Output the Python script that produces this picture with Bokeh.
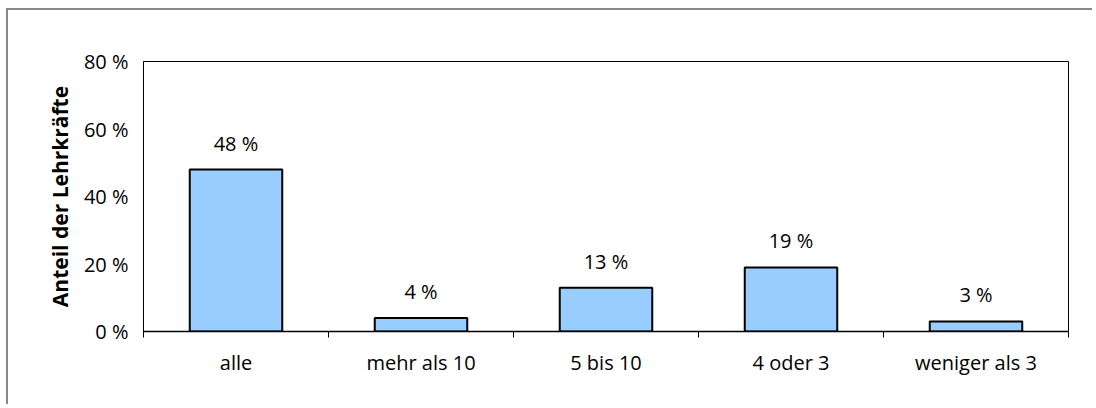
from bokeh.plotting import figure
from bokeh.models import ColumnDataSource, FixedTicker, Range1d, LabelSet
from bokeh.embed import file_html
from bokeh.resources import INLINE
from bokeh.core.properties import value

categories = ["alle", "mehr als 10", "5 bis 10", "4 oder 3", "weniger als 3"]
shares = [48, 4, 13, 19, 3]
y_ticks = [0, 20, 40, 60, 80]
y_tick_labels = ["0 %", "20 %", "40 %", "60 %", "80 %"]
y_title = "Anteil der Lehrkräfte"

FONT = "Open Sans"
x_centers = [i + 0.5 for i in range(len(categories))]
source = ColumnDataSource(dict(
    x=x_centers,
    top=shares,
    label=[f"{v} %" for v in shares],
))

p = figure(width=1086, height=396, output_backend="svg", toolbar_location=None,
           x_range=Range1d(0, len(categories)), y_range=Range1d(0, 80),
           min_border_left=135, min_border_right=26, min_border_top=51, min_border_bottom=75)
p.styles = {"border-left": "2px solid #888888", "border-top": "2px solid #888888",
            "margin-left": "6px", "margin-top": "8px"}

p.vbar(x="x", top="top", width=0.5, source=source,
       fill_color="#99CCFF", line_color="black", line_width=2)

labels = LabelSet(x="x", y="top", text="label", source=source,
                  text_align="center", text_baseline="bottom", y_offset=13,
                  text_font=value(FONT), text_font_size="20px", text_color="black")
p.add_layout(labels)

p.xgrid.grid_line_color = None
p.ygrid.grid_line_color = None
p.outline_line_color = "black"
p.outline_line_width = 1

# x axis: labels at centers, ticks at boundaries
xa = p.xaxis[0]
xa.ticker = FixedTicker(ticks=x_centers, minor_ticks=list(range(len(categories) + 1)))
xa.major_label_overrides = {c: n for c, n in zip(x_centers, categories)}
xa.major_tick_line_color = None
xa.major_tick_out = 0
xa.major_tick_in = 0
xa.minor_tick_line_color = "black"
xa.minor_tick_out = 6
xa.minor_tick_in = 0
xa.axis_line_color = "black"
xa.axis_line_width = 1.5
xa.major_label_standoff = 11
xa.major_label_text_font = FONT
xa.major_label_text_font_size = "20px"
xa.major_label_text_color = "black"

ya = p.yaxis[0]
ya.ticker = FixedTicker(ticks=y_ticks)
ya.major_label_overrides = {t: l for t, l in zip(y_ticks, y_tick_labels)}
ya.major_tick_line_color = None
ya.major_tick_out = 0
ya.major_tick_in = 0
ya.minor_tick_line_color = None
ya.axis_line_color = "black"
ya.axis_line_width = 1
ya.major_label_standoff = 15
ya.major_label_text_font = FONT
ya.major_label_text_font_size = "20px"
ya.major_label_text_color = "black"
ya.axis_label = y_title
ya.axis_label_text_font = FONT
ya.axis_label_text_font_style = "bold"
ya.axis_label_text_font_size = "21px"
ya.axis_label_text_color = "black"
ya.axis_label_standoff = 7

open("out.html", "w").write(file_html(p, INLINE))
